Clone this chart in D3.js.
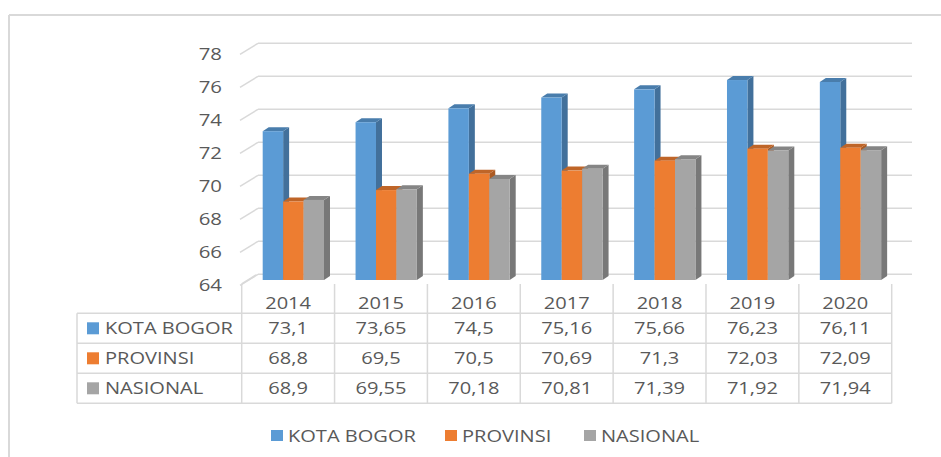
<!DOCTYPE html>
<html>
<head>
<meta charset="utf-8">
<script src="https://cdn.jsdelivr.net/npm/d3@7"></script>
<style>
  body { margin: 0; background: #fff; }
  svg text { font-family: "Open Sans", sans-serif; fill: #595959; }
</style>
</head>
<body>
<svg id="chart" width="941" height="457"></svg>
<script>
// data
var years = ["2014", "2015", "2016", "2017", "2018", "2019", "2020"];
var seriesNames = ["KOTA BOGOR", "PROVINSI", "NASIONAL"];
var kotaBogor = [73.1, 73.65, 74.5, 75.16, 75.66, 76.23, 76.11];
var provinsi = [68.8, 69.5, 70.5, 70.69, 71.3, 72.03, 72.09];
var nasional = [68.9, 69.55, 70.18, 70.81, 71.39, 71.92, 71.94];
var yTicks = [64, 66, 68, 70, 72, 74, 76, 78];
var colors = ["#5B9BD5", "#ED7D31", "#A5A5A5"];

var seriesValues = [kotaBogor, provinsi, nasional];
var svg = d3.select("#chart");
var grid = "#d9d9d9";
var depth = { x: 18, y: -11 };   // side wall perspective
var barDepth = { x: 6, y: -4 };

// outer frame (top + left only visible)
svg.append("line").attr("x1", 9).attr("y1", 15).attr("x2", 941).attr("y2", 15)
  .attr("stroke", grid).attr("stroke-width", 2);
svg.append("line").attr("x1", 9).attr("y1", 15).attr("x2", 9).attr("y2", 457)
  .attr("stroke", grid).attr("stroke-width", 2);

// scales
var x0 = d3.scaleBand().domain(years).range([241.7, 891.7]);
var x1 = d3.scaleBand().domain(seriesNames).range([21, 82.3]);
var yBack = d3.scaleLinear().domain([64, 78]).range([274.3, 43.3]);
var yBar = d3.scaleLinear().domain([64, 78]).range([280, 51.1]);

function stretchText(sel, sx) {
  sel.attr("transform", function() {
    var t = d3.select(this);
    return "translate(" + t.attr("data-x") + "," + t.attr("data-y") + ") scale(" + sx + ",1)";
  });
}

// gridlines on back wall + side wall
var gridG = svg.append("g");
yTicks.forEach(function(v) {
  var yb = yBack(v);
  gridG.append("line").attr("x1", 258).attr("y1", yb).attr("x2", 912).attr("y2", yb)
    .attr("stroke", grid).attr("stroke-width", 1.5);
  gridG.append("line").attr("x1", 258 - depth.x).attr("y1", yb - depth.y)
    .attr("x2", 258).attr("y2", yb)
    .attr("stroke", grid).attr("stroke-width", 1.5);
});

// y axis labels
svg.append("g").selectAll("text").data(yTicks).enter().append("text")
  .attr("data-x", 222).attr("data-y", function(d) { return yBack(d) - depth.y + 6; })
  .attr("text-anchor", "end").attr("font-size", 17)
  .text(function(d) { return d; })
  .call(stretchText, 1.2);

// 3D bars
var barsG = svg.append("g");
years.forEach(function(yr, i) {
  seriesNames.forEach(function(s, j) {
    var v = seriesValues[j][i];
    var xl = x0(yr) + x1(s);
    var w = x1.bandwidth();
    var yt = yBar(v), yb = yBar(64);
    var c = d3.color(colors[j]);
    // side face
    barsG.append("path")
      .attr("d", "M" + (xl + w) + "," + yt + " L" + (xl + w + barDepth.x) + "," + (yt + barDepth.y) +
        " L" + (xl + w + barDepth.x) + "," + (yb + barDepth.y) + " L" + (xl + w) + "," + yb + "Z")
      .attr("fill", c.darker(0.9));
    // top face
    barsG.append("path")
      .attr("d", "M" + xl + "," + yt + " L" + (xl + barDepth.x) + "," + (yt + barDepth.y) +
        " L" + (xl + w + barDepth.x) + "," + (yt + barDepth.y) + " L" + (xl + w) + "," + yt + "Z")
      .attr("fill", c.darker(0.6));
    // front face
    barsG.append("rect").attr("x", xl).attr("y", yt).attr("width", w).attr("height", yb - yt)
      .attr("fill", colors[j]);
  });
});

// data table
var rowLines = [313.3, 343.3, 373.3, 403.3];
var tableG = svg.append("g");
var tableLeft = 77, tableRight = 891.7;
rowLines.forEach(function(y) {
  tableG.append("line").attr("x1", tableLeft).attr("x2", tableRight).attr("y1", y).attr("y2", y)
    .attr("stroke", grid).attr("stroke-width", 1.5);
});
tableG.append("line").attr("x1", tableLeft).attr("x2", tableLeft).attr("y1", rowLines[0]).attr("y2", rowLines[3])
  .attr("stroke", grid).attr("stroke-width", 1.5);
years.concat(["end"]).forEach(function(yr, i) {
  var x = i < years.length ? x0(yr) : tableRight;
  tableG.append("line").attr("x1", x).attr("x2", x).attr("y1", 284).attr("y2", rowLines[3])
    .attr("stroke", grid).attr("stroke-width", 1.5);
});
// floor left edge
tableG.append("line").attr("x1", 241.7).attr("y1", 284).attr("x2", 256).attr("y2", 275)
  .attr("stroke", grid).attr("stroke-width", 1.5);

// year header
tableG.selectAll("text.year").data(years).enter().append("text")
  .attr("class", "year")
  .attr("data-x", function(d) { return x0(d) + x0.bandwidth() / 2; })
  .attr("data-y", 308.5)
  .attr("text-anchor", "middle").attr("font-size", 17)
  .text(function(d) { return d; })
  .call(stretchText, 1.18);

// rows
seriesNames.forEach(function(s, j) {
  var yc = (rowLines[j] + rowLines[j + 1]) / 2;
  tableG.append("rect").attr("x", 87).attr("y", yc - 6).attr("width", 12).attr("height", 12)
    .attr("fill", colors[j]);
  tableG.append("text").attr("data-x", 105).attr("data-y", yc + 6)
    .attr("font-size", 17).text(s).call(stretchText, 1.18);
  tableG.selectAll("text.v" + j).data(seriesValues[j]).enter().append("text")
    .attr("class", "v" + j)
    .attr("data-x", function(d, i) { return x0(years[i]) + x0.bandwidth() / 2; })
    .attr("data-y", yc + 6)
    .attr("text-anchor", "middle").attr("font-size", 17)
    .text(function(d) { return String(d).replace(".", ","); })
    .call(stretchText, 1.18);
});

// legend
var legendX = [271, 445, 584];
var legendG = svg.append("g");
seriesNames.forEach(function(s, j) {
  legendG.append("rect").attr("x", legendX[j]).attr("y", 430).attr("width", 12).attr("height", 11)
    .attr("fill", colors[j]);
  legendG.append("text").attr("data-x", legendX[j] + 17).attr("data-y", 441.5)
    .attr("font-size", 17).text(s).call(stretchText, 1.18);
});
</script>
</body>
</html>
